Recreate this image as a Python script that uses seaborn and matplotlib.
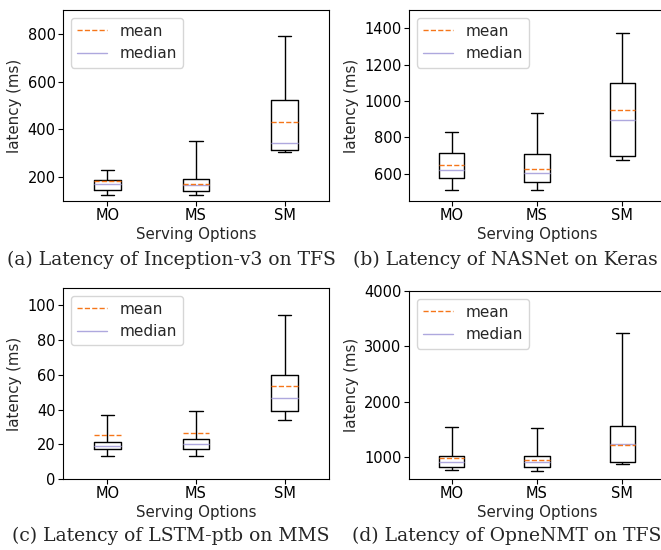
import numpy as np
import pandas as pd
import matplotlib
matplotlib.use("Agg")
import matplotlib.pyplot as plt
import seaborn as sns
from matplotlib.lines import Line2D

# ---------------- data ----------------
options = ["MO", "MS", "SM"]

# (a) Inception-v3 on TFS
a_min = [125, 127, 305]
a_q1 = [144, 141, 312]
a_med = [173, 169, 341]
a_q3 = [187, 192, 521]
a_max = [228, 351, 790]
a_mean = [185, 172, 430]

# (b) NASNet on Keras
b_min = [510, 508, 673]
b_q1 = [578, 554, 700]
b_med = [622, 606, 897]
b_q3 = [712, 706, 1099]
b_max = [829, 933, 1376]
b_mean = [646, 624, 953]

# (c) LSTM-ptb on MMS
c_min = [13, 13, 33.7]
c_q1 = [17.2, 17.2, 39]
c_med = [19, 20.1, 46.4]
c_q3 = [21.1, 23, 60]
c_max = [37, 38.9, 94.6]
c_mean = [25.5, 26.4, 53.4]

# (d) OpneNMT on TFS
d_min = [758, 745, 867]
d_q1 = [818, 818, 903]
d_med = [909, 909, 1242]
d_q3 = [1018, 1012, 1564]
d_max = [1539, 1521, 3236]
d_mean = [982, 952, 1212]

captions = ["(a) Latency of Inception-v3 on TFS",
            "(b) Latency of NASNet on Keras",
            "(c) Latency of LSTM-ptb on MMS",
            "(d) Latency of OpneNMT on TFS"]
ylims = [(100, 900), (450, 1500), (0, 110), (600, 4000)]
yticks = [[200, 400, 600, 800], [600, 800, 1000, 1200, 1400],
          [0, 20, 40, 60, 80, 100], [1000, 2000, 3000, 4000]]

panels = [
    (a_min, a_q1, a_med, a_q3, a_max, a_mean),
    (b_min, b_q1, b_med, b_q3, b_max, b_mean),
    (c_min, c_q1, c_med, c_q3, c_max, c_mean),
    (d_min, d_q1, d_med, d_q3, d_max, d_mean),
]

MEAN_C = "#f5761a"
MED_C = "#aea8de"

# ---------------- style ----------------
sns.set_style("ticks", {
    "axes.edgecolor": "black", "axes.linewidth": 0.8,
    "xtick.color": "black", "ytick.color": "black",
    "xtick.major.size": 3.5, "ytick.major.size": 3.5,
    "xtick.major.width": 0.8, "ytick.major.width": 0.8,
    "xtick.direction": "out", "ytick.direction": "out",
})
plt.rcParams["font.family"] = ["DejaVu Sans"]
plt.rcParams["font.size"] = 10.5

W, H = 661, 550
fig = plt.figure(figsize=(W / 100, H / 100), dpi=100)

# axes boxes in pixels: left, top, right, bottom
boxes = [(63, 10, 329, 201), (409, 10, 665, 201),
         (63, 288, 329, 479), (409, 291, 665, 479)]
cap_pos = [(7, 265), (353, 265), (12, 541), (352, 541)]

for i, (vals, (l, t, r, b)) in enumerate(zip(panels, boxes)):
    mn, q1, md, q3, mx, mean = vals
    ax = fig.add_axes([l / W, 1 - b / H, (r - l) / W, (b - t) / H])
    # five-number summaries per option -> boxes with whiskers at min/max
    rows = []
    for k, opt in enumerate(options):
        for v in (mn[k], q1[k], md[k], q3[k], mx[k]):
            rows.append({"option": opt, "latency": v})
    df = pd.DataFrame(rows)
    sns.boxplot(data=df, x="option", y="latency", order=options, ax=ax,
                width=0.3, whis=(0, 100), showfliers=False, fill=False,
                color="black", linewidth=1.0,
                medianprops=dict(color=MED_C, linewidth=1.0))
    for k in range(len(options)):
        ax.hlines(mean[k], k - 0.15, k + 0.15, colors=MEAN_C,
                  linestyles="--", linewidth=1.0, zorder=5)
    ax.set_xlim(-0.5, 2.5)
    ax.set_ylim(*ylims[i])
    ax.set_yticks(yticks[i])
    ax.set_xlabel("Serving Options", fontsize=10.8, labelpad=2.5)
    ax.set_ylabel("latency (ms)", fontsize=10.8, labelpad=4)
    ax.tick_params(labelsize=10.5, pad=1.8)
    for s in ax.spines.values():
        s.set_visible(True)
    handles = [Line2D([], [], color=MEAN_C, ls="--", lw=1.0),
               Line2D([], [], color=MED_C, ls="-", lw=1.0)]
    ax.legend(handles, ["mean", "median"], loc="upper left", fontsize=11,
              frameon=True, edgecolor="0.8", framealpha=0.8, fancybox=True)
    cx, cy = cap_pos[i]
    fig.text(cx / W, 1 - cy / H, captions[i], family="DejaVu Serif",
             fontsize=13.5, ha="left", va="baseline")

fig.savefig("out.png", dpi=100)
